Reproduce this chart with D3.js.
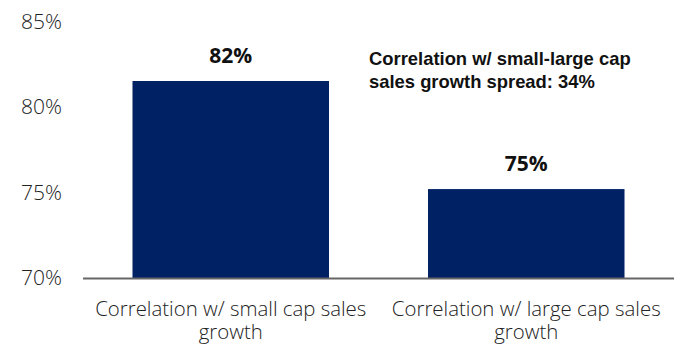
<!DOCTYPE html>
<html>
<head>
<meta charset="utf-8">
<script src="https://cdn.jsdelivr.net/npm/d3@7"></script>
<style>
  html, body { margin: 0; padding: 0; background: #fff; }
  svg { display: block; }
</style>
</head>
<body>
<div id="chart"></div>
<script>
// Correlation of small- vs large-cap sales growth
const categories = [
  ["Correlation w/ small cap sales", "growth"],
  ["Correlation w/ large cap sales", "growth"]
];
const values = [0.8152, 0.752];
const yTicks = [0.70, 0.75, 0.80, 0.85];
const noteLines = ["Correlation w/ small-large cap", "sales growth spread: 34%"];

const W = 681, H = 352;
const svg = d3.select("#chart").append("svg")
  .attr("width", W).attr("height", H);

const x = d3.scaleBand()
  .domain(d3.range(values.length))
  .range([83, 674])
  .paddingInner(0.335)
  .paddingOuter(0.1675);

const y = d3.scaleLinear()
  .domain([0.70, 0.85])
  .range([278, 21.5]);

const pct = d3.format(".0%");

// y axis labels (no axis line or ticks)
const yAxis = d3.axisLeft(y).tickValues(yTicks).tickFormat(pct).tickSize(0).tickPadding(0);
const gy = svg.append("g").attr("transform", "translate(62,0)").call(yAxis);
gy.select(".domain").remove();
gy.selectAll("text")
  .attr("font-family", "'Open Sans', sans-serif")
  .attr("font-weight", 300)
  .attr("font-size", 21)
  .attr("fill", "#222");

// bars
svg.append("g").selectAll("rect")
  .data(values)
  .join("rect")
  .attr("x", (d, i) => x(i))
  .attr("width", x.bandwidth())
  .attr("y", d => y(d))
  .attr("height", d => y(0.70) - y(d))
  .attr("fill", "#002163");

// baseline
svg.append("line")
  .attr("x1", 83).attr("x2", 674)
  .attr("y1", y(0.70) + 0.5).attr("y2", y(0.70) + 0.5)
  .attr("stroke", "#666").attr("stroke-width", 2);

// value labels
svg.append("g").selectAll("text")
  .data(values)
  .join("text")
  .attr("x", (d, i) => x(i) + x.bandwidth() / 2)
  .attr("y", d => y(d) - 18)
  .attr("text-anchor", "middle")
  .attr("font-family", "'Open Sans', sans-serif")
  .attr("font-weight", 700)
  .attr("font-size", 21)
  .attr("fill", "#111")
  .text(d => pct(d));

// category labels
const gx = svg.append("g").selectAll("text")
  .data(categories)
  .join("text")
  .attr("x", (d, i) => x(i) + x.bandwidth() / 2)
  .attr("y", 316)
  .attr("text-anchor", "middle")
  .attr("font-family", "'Open Sans', sans-serif")
  .attr("font-weight", 300)
  .attr("font-size", 20.4)
  .attr("fill", "#222");
gx.selectAll("tspan")
  .data(d => d)
  .join("tspan")
  .attr("x", function () { return d3.select(this.parentNode).attr("x"); })
  .attr("dy", (d, i) => i === 0 ? 0 : 23)
  .text(d => d);

// spread annotation
svg.append("text")
  .attr("x", 369).attr("y", 64.5)
  .attr("font-family", "'Liberation Sans', Arial, sans-serif")
  .attr("font-weight", 700)
  .attr("font-size", 18.4)
  .attr("fill", "#111")
  .selectAll("tspan")
  .data(noteLines)
  .join("tspan")
  .attr("x", 369)
  .attr("dy", (d, i) => i === 0 ? 0 : 23.5)
  .text(d => d);
</script>
</body>
</html>
